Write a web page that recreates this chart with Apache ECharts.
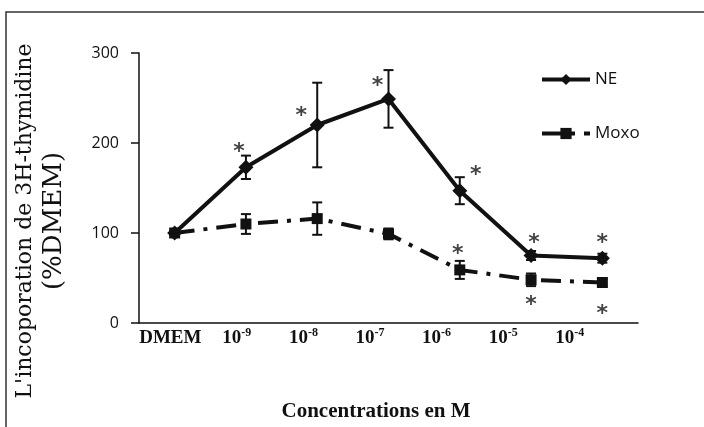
<!DOCTYPE html>
<html>
<head>
<meta charset="utf-8">
<title>Incorporation de 3H-thymidine</title>
<script src="https://cdn.jsdelivr.net/npm/echarts@6/dist/echarts.min.js"></script>
<style>
  html, body { margin: 0; padding: 0; background: #fff; }
  #chart { width: 704px; height: 427px; }
</style>
</head>
<body>
<div id="chart"></div>
<script>
// categories de l'axe X (exposants des concentrations)
var categories = ['DMEM', '1e-9', '1e-8', '1e-7', '1e-6', '1e-5', '1e-4'];
var exponents = ['', '-9', '-8', '-7', '-6', '-5', '-4'];

// NE
var neValues = [100, 173, 220, 249, 147, 75, 72];
var neErr = [2, 13, 47, 32, 15, 5, 5];
var neStars = [null, 197, 237, 271, 172, 96, 96];
var neStarDx = [0, -7, -16, -11, 16, 3, 0];

// Moxo
var moxoValues = [100, 110, 116, 99, 59, 48, 45];
var moxoErr = [2, 11, 18, 6, 10, 7, 4];
var moxoStars = [null, null, null, null, 84, 28, 18];
var moxoStarDx = [0, 0, 0, 0, -2, 0, 0];

var ink = '#111';

function errData(vals, errs) {
    return vals.map(function (v, i) { return [i, v - errs[i], v + errs[i]]; });
}

function starData(stars, dx) {
    var out = [];
    stars.forEach(function (v, i) {
        if (v == null) return;
        out.push({ value: [i, v], label: { offset: [dx[i], 7] } });
    });
    return out;
}

function renderErr(params, api) {
    var x = api.value(0);
    var lo = api.coord([x, api.value(1)]);
    var hi = api.coord([x, api.value(2)]);
    var w = 5;
    var st = { stroke: ink, lineWidth: 2 };
    return {
        type: 'group',
        children: [
            { type: 'line', shape: { x1: lo[0], y1: lo[1], x2: hi[0], y2: hi[1] }, style: st },
            { type: 'line', shape: { x1: lo[0] - w, y1: lo[1], x2: lo[0] + w, y2: lo[1] }, style: st },
            { type: 'line', shape: { x1: hi[0] - w, y1: hi[1], x2: hi[0] + w, y2: hi[1] }, style: st }
        ]
    };
}

var starLabel = {
    show: true, position: 'inside', formatter: '*',
    fontFamily: 'DejaVu Sans', fontWeight: 'bold', fontSize: 22, color: ink
};

var chart = echarts.init(document.getElementById('chart'));

var option = {
    animation: false,
    backgroundColor: '#fff',
    graphic: [{
        type: 'rect',
        silent: true,
        shape: { x: 6, y: 12, width: 800, height: 500 },
        style: { fill: 'none', stroke: '#333', lineWidth: 1.5 }
    }],
    legend: {
        orient: 'vertical',
        left: 535,
        top: 66,
        itemWidth: 48,
        itemHeight: 14,
        itemGap: 37,
        lineStyle: { width: 4 },
        textStyle: { fontFamily: 'Open Sans', fontSize: 17, color: ink },
        data: ['NE', 'Moxo']
    },
    grid: [
        { left: 139, right: 66, top: 53, bottom: 104 },
        { left: 137, right: 101, top: 53, bottom: 104 }
    ],
    xAxis: [{
        type: 'category',
        gridIndex: 0,
        data: categories,
        axisLine: { lineStyle: { color: ink, width: 1.5 } },
        axisTick: { length: 6, lineStyle: { color: ink, width: 1.5 } },
        axisLabel: { show: false }
    }, {
        type: 'category',
        gridIndex: 1,
        data: categories,
        axisLine: { show: false },
        axisTick: { show: false },
        axisLabel: {
            interval: 0,
            margin: 15,
            formatter: function (v, i) {
                return i === 0 ? '{b|DMEM}' : '{b|10}{s|' + exponents[i] + '}';
            },
            rich: {
                b: { fontFamily: 'Liberation Serif', fontWeight: 'bold', fontSize: 19, lineHeight: 22, color: ink },
                s: { fontFamily: 'Liberation Serif', fontWeight: 'bold', fontSize: 12, lineHeight: 12, verticalAlign: 'top', color: ink }
            }
        },
        name: 'Concentrations en M',
        nameLocation: 'middle',
        nameGap: 89,
        nameTextStyle: {
            fontFamily: 'Liberation Serif', fontWeight: 'bold', fontSize: 21, color: ink,
            padding: [0, 0, 0, 12]
        }
    }],
    yAxis: [{
        type: 'value',
        gridIndex: 0,
        min: 0,
        max: 300,
        interval: 100,
        axisLine: { show: true, lineStyle: { color: ink, width: 1.5 } },
        axisTick: { show: true, length: 8, lineStyle: { color: ink, width: 1.5 } },
        splitLine: { show: false },
        axisLabel: { margin: 20, fontFamily: 'Open Sans', fontSize: 16, color: ink },
        name: '{a|L\'incoporation de 3H-thymidine}\n{b|(%DMEM)}',
        nameLocation: 'middle',
        nameGap: 70,
        nameTextStyle: {
            padding: [0, 66, 0, 0],
            rich: {
                a: { fontFamily: 'DejaVu Serif', fontSize: 22, lineHeight: 29, color: ink },
                b: { fontFamily: 'DejaVu Serif', fontSize: 26, lineHeight: 29, color: ink }
            }
        }
    }, {
        type: 'value',
        gridIndex: 1,
        min: 0,
        max: 300,
        show: false
    }],
    series: [{
        name: 'Moxo',
        type: 'line',
        data: moxoValues,
        symbol: 'rect',
        symbolSize: 11,
        itemStyle: { color: ink },
        lineStyle: { color: ink, width: 4, type: [20, 9, 4, 9] },
        z: 3
    }, {
        name: 'NE',
        type: 'line',
        data: neValues,
        symbol: 'diamond',
        symbolSize: 15,
        itemStyle: { color: ink },
        lineStyle: { color: ink, width: 4 },
        z: 4
    }, {
        name: 'errMoxo',
        type: 'custom',
        renderItem: renderErr,
        data: errData(moxoValues, moxoErr),
        z: 5
    }, {
        name: 'errNE',
        type: 'custom',
        renderItem: renderErr,
        data: errData(neValues, neErr),
        z: 5
    }, {
        name: 'starsNE',
        type: 'scatter',
        symbolSize: 0,
        silent: true,
        data: starData(neStars, neStarDx),
        label: starLabel
    }, {
        name: 'starsMoxo',
        type: 'scatter',
        symbolSize: 0,
        silent: true,
        data: starData(moxoStars, moxoStarDx),
        label: starLabel
    }]
};

chart.setOption(option);
</script>
</body>
</html>
